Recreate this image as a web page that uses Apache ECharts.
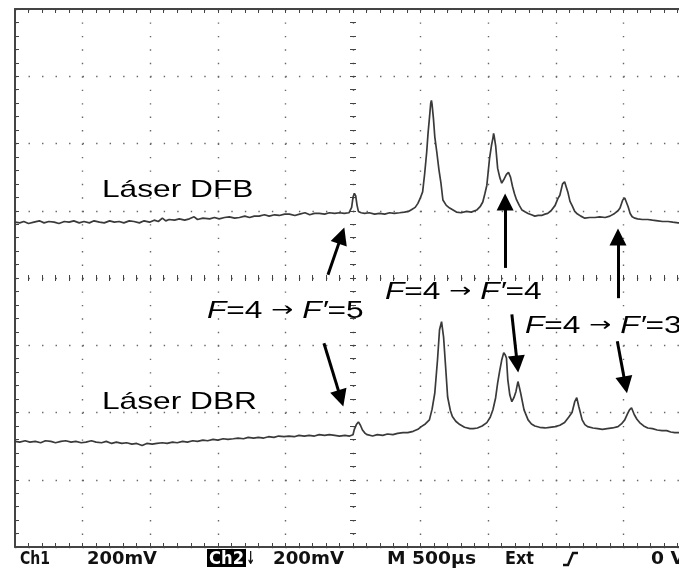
<!DOCTYPE html>
<html>
<head>
<meta charset="utf-8">
<script src="https://cdn.jsdelivr.net/npm/echarts@6.0.0/dist/echarts.min.js"></script>
<style>
html, body { margin: 0; padding: 0; background: #fff; overflow: hidden; }
#chart { width: 679px; height: 571px; }
</style>
</head>
<body>
<div id="chart"></div>
<script>
// screen in divisions: x -5..5 (500 µs/div), y -4..4 (200 mV/div)
const dfbTrace = [
  [-5.0,0.83],[-4.93,0.82],[-4.87,0.84],[-4.80,0.81],[-4.72,0.83],[-4.64,0.85],[-4.57,0.82],[-4.50,0.84],
  [-4.42,0.83],[-4.35,0.81],[-4.27,0.84],[-4.20,0.83],[-4.13,0.85],[-4.05,0.82],[-3.98,0.84],[-3.90,0.82],
  [-3.83,0.85],[-3.75,0.83],[-3.68,0.82],[-3.60,0.85],[-3.53,0.83],[-3.46,0.84],[-3.39,0.82],[-3.31,0.85],
  [-3.24,0.84],[-3.16,0.82],[-3.09,0.85],[-3.01,0.83],[-2.94,0.86],[-2.88,0.84],[-2.82,0.89],[-2.77,0.85],
  [-2.72,0.87],[-2.64,0.86],[-2.57,0.88],[-2.49,0.86],[-2.42,0.88],[-2.35,0.91],[-2.30,0.87],[-2.22,0.89],
  [-2.12,0.88],[-2.05,0.90],[-1.98,0.88],[-1.90,0.90],[-1.83,0.91],[-1.75,0.89],[-1.68,0.90],[-1.60,0.92],
  [-1.53,0.90],[-1.46,0.92],[-1.39,0.92],[-1.31,0.94],[-1.24,0.92],[-1.16,0.94],[-1.09,0.93],[-1.01,0.95],
  [-0.94,0.95],[-0.86,0.93],[-0.79,0.95],[-0.71,0.97],[-0.64,0.94],[-0.57,0.96],[-0.50,0.96],[-0.42,0.95],
  [-0.35,0.97],[-0.27,0.96],[-0.20,0.97],[-0.13,0.96],[-0.06,0.97],[-0.02,1.05],[0.00,1.20],[0.02,1.26],
  [0.04,1.22],[0.06,1.08],[0.08,0.99],[0.12,0.97],[0.17,0.96],[0.24,0.97],[0.32,0.95],[0.39,0.96],
  [0.47,0.95],[0.54,0.97],[0.61,0.96],[0.69,0.97],[0.76,0.98],[0.82,0.99],[0.87,1.02],[0.92,1.05],
  [0.96,1.11],[1.00,1.20],[1.03,1.28],[1.06,1.55],[1.09,1.87],[1.11,2.15],[1.13,2.37],[1.15,2.60],
  [1.16,2.64],[1.17,2.58],[1.19,2.37],[1.21,2.10],[1.24,1.87],[1.27,1.62],[1.30,1.42],[1.33,1.16],
  [1.38,1.08],[1.43,1.04],[1.48,1.01],[1.53,0.98],[1.60,0.97],[1.68,0.99],[1.75,0.98],[1.83,1.01],
  [1.88,1.06],[1.92,1.13],[1.95,1.25],[1.98,1.38],[2.00,1.58],[2.02,1.78],[2.05,1.98],[2.07,2.08],
  [2.08,2.15],[2.09,2.10],[2.11,1.97],[2.14,1.63],[2.17,1.50],[2.20,1.41],[2.24,1.48],[2.27,1.54],
  [2.30,1.57],[2.33,1.50],[2.36,1.36],[2.39,1.25],[2.42,1.16],[2.46,1.08],[2.50,1.01],[2.55,0.98],
  [2.59,0.96],[2.64,0.94],[2.69,0.92],[2.74,0.93],[2.79,0.93],[2.84,0.95],[2.88,0.96],[2.93,1.00],
  [2.99,1.08],[3.03,1.18],[3.06,1.23],[3.10,1.40],[3.13,1.43],[3.15,1.42],[3.18,1.27],[3.21,1.14],
  [3.24,1.08],[3.28,0.99],[3.31,0.96],[3.37,0.92],[3.43,0.89],[3.50,0.90],[3.58,0.90],[3.65,0.91],
  [3.73,0.90],[3.80,0.92],[3.87,0.96],[3.92,1.00],[3.95,1.04],[3.99,1.16],[4.02,1.19],[4.04,1.19],
  [4.07,1.06],[4.10,0.96],[4.13,0.91],[4.17,0.89],[4.21,0.88],[4.28,0.87],[4.36,0.87],[4.43,0.86],
  [4.51,0.85],[4.58,0.84],[4.66,0.84],[4.73,0.83],[4.81,0.82],[4.89,0.82],[4.97,0.81]
];

const dbrTrace = [
  [-5.0,-2.43],[-4.93,-2.44],[-4.85,-2.42],[-4.78,-2.44],[-4.70,-2.43],[-4.62,-2.45],[-4.55,-2.42],[-4.47,-2.43],
  [-4.40,-2.45],[-4.32,-2.43],[-4.25,-2.42],[-4.17,-2.44],[-4.10,-2.43],[-4.02,-2.45],[-3.95,-2.44],[-3.87,-2.42],
  [-3.80,-2.44],[-3.72,-2.45],[-3.65,-2.43],[-3.57,-2.46],[-3.50,-2.44],[-3.42,-2.46],[-3.35,-2.45],[-3.27,-2.47],
  [-3.20,-2.46],[-3.12,-2.49],[-3.05,-2.46],[-2.97,-2.47],[-2.90,-2.46],[-2.82,-2.45],[-2.75,-2.46],[-2.67,-2.44],
  [-2.60,-2.45],[-2.52,-2.43],[-2.45,-2.44],[-2.37,-2.42],[-2.30,-2.43],[-2.22,-2.41],[-2.15,-2.42],[-2.07,-2.40],
  [-2.00,-2.41],[-1.92,-2.39],[-1.85,-2.40],[-1.77,-2.39],[-1.70,-2.38],[-1.62,-2.39],[-1.55,-2.37],[-1.47,-2.38],
  [-1.40,-2.37],[-1.32,-2.38],[-1.25,-2.36],[-1.17,-2.37],[-1.10,-2.35],[-1.02,-2.36],[-0.95,-2.35],[-0.87,-2.36],
  [-0.80,-2.34],[-0.72,-2.35],[-0.65,-2.34],[-0.57,-2.35],[-0.50,-2.33],[-0.42,-2.34],[-0.35,-2.33],[-0.27,-2.34],
  [-0.20,-2.35],[-0.12,-2.34],[-0.05,-2.35],[0.00,-2.33],[0.02,-2.25],[0.05,-2.18],[0.08,-2.14],[0.11,-2.19],
  [0.14,-2.26],[0.18,-2.31],[0.21,-2.33],[0.29,-2.35],[0.36,-2.33],[0.44,-2.34],[0.51,-2.32],[0.59,-2.33],
  [0.66,-2.31],[0.74,-2.30],[0.81,-2.30],[0.89,-2.28],[0.96,-2.25],[1.01,-2.21],[1.07,-2.17],[1.13,-2.11],
  [1.17,-1.95],[1.21,-1.71],[1.25,-1.22],[1.28,-0.77],[1.31,-0.65],[1.34,-0.88],[1.37,-1.32],[1.40,-1.77],
  [1.44,-1.97],[1.47,-2.06],[1.52,-2.13],[1.58,-2.18],[1.65,-2.22],[1.73,-2.24],[1.78,-2.24],[1.84,-2.23],
  [1.91,-2.20],[1.98,-2.15],[2.03,-2.07],[2.07,-1.96],[2.11,-1.78],[2.14,-1.56],[2.17,-1.38],[2.20,-1.22],
  [2.23,-1.11],[2.25,-1.14],[2.27,-1.19],[2.29,-1.51],[2.32,-1.74],[2.35,-1.84],[2.38,-1.78],[2.41,-1.69],
  [2.44,-1.54],[2.46,-1.62],[2.48,-1.71],[2.53,-1.96],[2.59,-2.11],[2.64,-2.17],[2.69,-2.20],[2.76,-2.22],
  [2.84,-2.23],[2.91,-2.22],[2.99,-2.21],[3.06,-2.19],[3.13,-2.15],[3.19,-2.07],[3.24,-2.00],[3.28,-1.84],
  [3.31,-1.78],[3.34,-1.91],[3.39,-2.11],[3.43,-2.18],[3.47,-2.21],[3.55,-2.23],[3.62,-2.24],[3.69,-2.25],
  [3.76,-2.24],[3.84,-2.23],[3.92,-2.21],[3.97,-2.17],[4.02,-2.11],[4.06,-2.02],[4.09,-1.96],[4.12,-1.93],
  [4.16,-2.03],[4.20,-2.10],[4.24,-2.15],[4.30,-2.20],[4.36,-2.23],[4.43,-2.24],[4.50,-2.26],[4.57,-2.27],
  [4.64,-2.27],[4.70,-2.29],[4.76,-2.30],[4.84,-2.30],[4.92,-2.31],[5.0,-2.31]
];

// arrows: tail -> head (divisions)
const arrowTails = [[-0.37,0.05],[-0.43,-0.97],[2.25,0.15],[3.92,-0.30],[2.35,-0.54],[3.91,-0.94]];
const arrowHeads = [[-0.17,0.63],[-0.18,-1.79],[2.25,1.13],[3.92,0.61],[2.43,-1.28],[4.03,-1.59]];

// annotation texts
const noteTexts = ['Láser DFB', 'Láser DBR', '{i|F}=4 {a|→} {i|F′}=5', '{i|F}=4 {a|→} {i|F′}=4', '{i|F}=4 {a|→} {i|F′}=3'];
// status line of the scope
const statusTexts = ['Ch1', '200mV', 'Ch2', '↓', '200mV', 'M 500µs', 'Ext', '0 V'];

const chart = echarts.init(document.getElementById('chart'));

const measureCtx = document.createElement('canvas').getContext('2d');
function textWidth(text, font) {
  measureCtx.font = font;
  return measureCtx.measureText(text).width;
}

const traceColor = '#3a3a3a';
const frameColor = '#444';
const dotColor = '#666';

function axisBase(extra) {
  return Object.assign({
    type: 'value',
    axisLabel: { show: false },
    splitLine: { show: false },
    minorTick: { show: true, splitNumber: 5, length: 4, lineStyle: { color: frameColor } },
    axisTick: { show: true, inside: true, length: 4, lineStyle: { color: frameColor } }
  }, extra);
}

const xRange = { min: -5, max: 5, interval: 1 };
const yRange = { min: -4, max: 4, interval: 1 };

// centre cross: two axes per direction so the ticks stick out on both sides
function centreAxis(range, inside) {
  return axisBase(Object.assign({
    axisLine: { show: false, onZero: true, onZeroAxisIndex: 0 },
    axisTick: { show: true, inside: inside, length: 3, lineStyle: { color: frameColor } },
    minorTick: { show: true, splitNumber: 5, length: 3, lineStyle: { color: frameColor } }
  }, range));
}

const xAxes = [
  axisBase(Object.assign({
    position: 'bottom',
    axisLine: { show: true, onZero: false, lineStyle: { color: frameColor, width: 2 } },
    splitLine: { show: true, lineStyle: { color: dotColor, width: 1.4, type: [1.4, 12.05] } }
  }, xRange)),
  axisBase(Object.assign({
    position: 'top',
    axisLine: { show: true, onZero: false, lineStyle: { color: frameColor, width: 2 } }
  }, xRange)),
  centreAxis(xRange, true),
  centreAxis(xRange, false)
];

const yAxes = [
  axisBase(Object.assign({
    position: 'left',
    axisLine: { show: true, onZero: false, lineStyle: { color: frameColor, width: 2 } },
    splitLine: { show: true, lineStyle: { color: dotColor, width: 1.4, type: [1.4, 12.12] } }
  }, yRange)),
  centreAxis(yRange, true),
  centreAxis(yRange, false)
];

// annotation placement: [left, centerY]
const notePos = [[102, 190], [102, 402], [207, 311], [385, 292], [525, 326]];
const noteFont = '24px "Liberation Sans", Arial, sans-serif';
const noteScale = 1.32;

const noteGraphics = noteTexts.map(function (t, i) {
  return {
    type: 'text',
    x: notePos[i][0],
    y: notePos[i][1],
    scaleX: noteScale,
    z: 100,
    style: {
      text: t,
      fill: '#000',
      font: noteFont,
      align: 'left',
      verticalAlign: 'middle',
      rich: {
        i: { fontStyle: 'italic', fontSize: 24, fontFamily: 'Liberation Sans', fill: '#000' },
        a: { fontSize: 20, fontFamily: 'DejaVu Sans', fill: '#000' }
      }
    }
  };
});

// status line chunks: [left, right]
const statusPos = [[20, 50], [87, 157], [209, 244], [246, 254], [273, 344], [387, 476], [505, 534], [651, 685]];
const statusFont = 'bold 18px "DejaVu Sans", sans-serif';

const statusGraphics = [
  { type: 'rect', shape: { x: 207, y: 549, width: 39, height: 18 }, style: { fill: '#000' }, z: 99 }
].concat(statusTexts.map(function (t, i) {
  const w = statusPos[i][1] - statusPos[i][0];
  return {
    type: 'text',
    x: statusPos[i][0],
    y: 559,
    scaleX: Math.max(0.6, w / textWidth(t, statusFont)),
    z: 100,
    style: {
      text: t,
      fill: t === 'Ch2' ? '#fff' : '#111',
      font: statusFont,
      align: 'left',
      verticalAlign: 'middle'
    }
  };
})).concat([
  // trigger slope symbol
  { type: 'polyline', z: 100, shape: { points: [[563, 565], [568, 565], [573, 553], [578, 553]] },
    style: { stroke: '#111', lineWidth: 2.4, fill: null } }
]);

chart.setOption({
  animation: false,
  backgroundColor: '#fff',
  grid: { left: 15, top: 9, width: 676, height: 538, outerBoundsMode: 'none', containLabel: false },
  xAxis: xAxes,
  yAxis: yAxes,
  series: [
    {
      name: 'Láser DFB',
      type: 'line',
      data: dfbTrace,
      showSymbol: false,
      lineStyle: { color: traceColor, width: 1.7 },
      z: 5,
      markLine: {
        silent: true,
        symbol: ['none', 'triangle'],
        symbolSize: 17,
        label: { show: false },
        emphasis: { disabled: true },
        lineStyle: { color: '#000', width: 3, type: 'solid' },
        data: arrowTails.map(function (t, i) {
          return [{ coord: t }, { coord: arrowHeads[i] }];
        })
      }
    },
    {
      name: 'Láser DBR',
      type: 'line',
      data: dbrTrace,
      showSymbol: false,
      lineStyle: { color: traceColor, width: 1.7 },
      z: 5
    }
  ],
  graphic: noteGraphics.concat(statusGraphics)
});
</script>
</body>
</html>
